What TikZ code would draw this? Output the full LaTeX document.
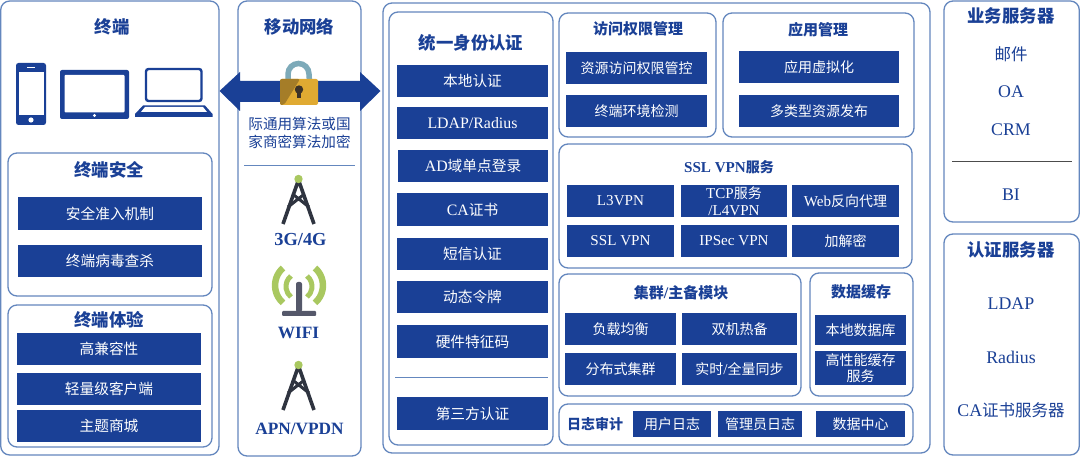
\documentclass[tikz,border=0pt]{standalone}
\usepackage{fontspec}
\setmainfont[Scale=1.08]{Liberation Serif}
\newfontfamily\cjk{Noto Sans CJK SC}
\newcommand{\C}[1]{{\cjk #1}}
\definecolor{bl}{HTML}{1A4096}
\definecolor{bd}{HTML}{6487BE}
\definecolor{tw}{HTML}{2F3440}
\definecolor{gr}{HTML}{A9C860}
\definecolor{gold}{HTML}{E0AA32}
\definecolor{golddk}{HTML}{A57D28}
\definecolor{shackle}{HTML}{7DAAB9}
\definecolor{keyc}{HTML}{3C3228}
\definecolor{mast}{HTML}{55586A}
\tikzset{x=1pt,y=-1pt,
 panel/.style={draw=bd,line width=1.3pt,fill=white,rounded corners=9pt},
 bbox/.style={fill=bl,text=white,inner sep=0pt,align=center,font=\fontsize{14}{15.5}\selectfont},
 bboxw/.style={bbox,font=\fontsize{14.7}{15.5}\selectfont},
 ttl/.style={text=bl,inner sep=0pt,align=center,font=\fontsize{17.4}{19}\selectfont\bfseries},
 ttlb/.style={text=bl,inner sep=0pt,align=center,font=\fontsize{15}{17}\selectfont\bfseries},
 srv/.style={text=bl,inner sep=0pt,align=center,font=\fontsize{16.5}{18}\selectfont},
 sepl/.style={draw=bd,line width=0.7pt},
}
\newcommand{\bx}[7][bbox]{\node[#1,minimum width=#4pt-#2pt,minimum height=#5pt-#3pt] (#6) at ({(#2+#4)/2},{(#3+#5)/2}) {#7};}
\newcommand{\pn}[5]{\draw[panel] (#1,#2) rectangle (#3,#4) coordinate (#5);}
\newcommand{\tower}[2]{%
 \begin{scope}[shift={(#1,#2)}]
 \draw[tw,line width=3.6pt] (0,6) -- (-15.5,50) (0,6) -- (15.5,50);
 \draw[tw,line width=3pt] (-10.5,33) -- (6,20) (10.5,33) -- (-6,20);
 \fill[gr] (0,5) circle (4.2pt);
 \end{scope}}
\begin{document}
\begin{tikzpicture}
\useasboundingbox (0,0) rectangle (1080,457);
\fill[white] (0,0) rectangle (1080,457);
% outer panels
\pn{0.7}{1}{219}{455}{p1}
\pn{238}{1}{361}{456}{p2}
\pn{383}{3}{930}{453}{p3}
\pn{944}{1}{1079.3}{222}{p4}
\pn{944}{234}{1079.3}{455}{p5}
% terminal
\node[ttl] (t1) at (112,27) {\C{终端}};
% phone
\fill[bl,rounded corners=2.5pt] (16,63) rectangle (46,125);
\fill[white] (18.5,72) rectangle (43.5,115);
\fill[white] (31,120) circle (2.6pt);
\fill[white] (27,67) rectangle (35,68);
% tablet
\fill[bl,rounded corners=2pt] (60,70) rectangle (129,119);
\fill[white,rounded corners=1pt] (64.5,75) rectangle (124.5,112.5);
\fill[white] (94.5,115.5) circle (1.6pt);
% laptop
\draw[bl,line width=2.4pt,rounded corners=2.5pt] (146,69) rectangle (201.5,101);
\fill[bl] (143,105.5) -- (205,105.5) -- (212.5,114) -- (212.5,117) -- (135,117) -- (135,114) -- cycle;
\fill[white] (145,107) -- (203,107) -- (207,112) -- (141,112) -- cycle;
% terminal security
\pn{8}{153}{212}{296}{p11}
\node[ttl] (t2) at (109,170) {\C{终端安全}};
\bx[bboxw]{18}{197}{202}{230}{a1}{\C{安全准入机制}}
\bx[bboxw]{18}{245}{202}{277}{a2}{\C{终端病毒查杀}}
% experience
\pn{8}{305}{212}{447}{p12}
\node[ttl] (t3) at (109,320) {\C{终端体验}};
\bx[bboxw]{17}{333}{201}{365}{a3}{\C{高兼容性}}
\bx[bboxw]{17}{373}{201}{405}{a4}{\C{轻量级客户端}}
\bx[bboxw]{17}{410}{201}{442}{a5}{\C{主题商城}}
% mobile network
\node[ttl] (t4) at (299.5,27) {\C{移动网络}};
\fill[bl] (219.5,91) -- (240,72) -- (240,81) -- (360,81) -- (360,72) -- (380.5,91) -- (360,111) -- (360,102) -- (240,102) -- (240,111) -- cycle;
% lock
\draw[line width=5.5pt,shackle] (288,82) -- (288,74) arc[start angle=180,end angle=0,radius=10.5pt] -- (309.5,82);
\fill[rounded corners=2pt,gold] (280,79) rectangle (318,105);
\fill[golddk,rounded corners=2pt] (280,105) -- (280,79) -- (300,79) -- (284,105) -- cycle;
\fill[keyc] (299,89.5) circle (4.2pt);
\fill[keyc] (297.3,90) rectangle (300.7,98.5);
\node[text=bl,inner sep=0pt,align=center,font=\fontsize{14.6}{18}\selectfont] (t5) at (299.5,133) {\C{际通用算法或国}\\\C{家商密算法加密}};
\draw[sepl] (244,165) -- (355,165);
\tower{298.5}{174}
\node[ttlb,font=\fontsize{17}{19}\selectfont\bfseries] (t6) at (300.5,240) {3G/4G};
% wifi
\fill[mast,rounded corners=1pt] (282,311) rectangle (316,316);
\fill[mast,rounded corners=2pt] (296,312) -- (296,282) -- (302,282) -- (302,312) -- cycle;
\draw[gr,line width=5pt] (291,276) arc[start angle=129,end angle=231,radius=13.5pt];
\draw[gr,line width=5pt] (307,276) arc[start angle=51,end angle=-51,radius=13.5pt];
\draw[gr,line width=6.5pt] (283,268) arc[start angle=131,end angle=229,radius=23.1pt];
\draw[gr,line width=6.5pt] (315,268) arc[start angle=49,end angle=-49,radius=23.1pt];
\node[ttlb,font=\fontsize{16}{18}\selectfont\bfseries] (t7) at (298.5,333) {WIFI};
\tower{298.5}{360}
\node[ttlb,font=\fontsize{16}{18}\selectfont\bfseries] (t8) at (299.5,429) {APN/VPDN};
% identity
\pn{389}{12}{553}{445}{q1}
\node[ttl] (t9) at (471,43) {\C{统一身份认证}};
\bx[bboxw]{397}{65}{548}{97}{b1}{\C{本地认证}}
\bx[bboxw]{397}{107}{548}{139}{b2}{LDAP/Radius}
\bx[bboxw]{398}{150}{548}{182}{b3}{AD\C{域单点登录}}
\bx[bboxw]{397}{193}{548}{226}{b4}{CA\C{证书}}
\bx[bboxw]{397}{238}{548}{270}{b5}{\C{短信认证}}
\bx[bboxw]{397}{281}{548}{313}{b6}{\C{动态令牌}}
\bx[bboxw]{397}{325}{548}{358}{b7}{\C{硬件特征码}}
\draw[sepl] (395,377) -- (548,377);
\bx[bboxw]{397}{397}{548}{430}{b8}{\C{第三方认证}}
% access
\pn{559}{13}{716}{137}{q2}
\node[ttlb] (t10) at (638,29) {\C{访问权限管理}};
\bx{566}{52}{707}{84}{c1}{\C{资源访问权限管控}}
\bx{566}{95}{707}{127}{c2}{\C{终端环境检测}}
% app
\pn{723}{13}{914}{137}{q3}
\node[ttlb] (t11) at (818,30) {\C{应用管理}};
\bx{739}{51}{899}{83}{d1}{\C{应用虚拟化}}
\bx{739}{95}{899}{127}{d2}{\C{多类型资源发布}}
% ssl
\pn{559}{144}{912}{268}{q4}
\node[ttlb,font=\fontsize{14}{16}\selectfont\bfseries] (t12) at (729,167) {SSL VPN\C{服务}};
\bx{567}{185}{674}{217}{e1}{L3VPN}
\bx{681}{185}{787}{217}{e2}{TCP\C{服务}\\[1.5pt]/L4VPN}
\bx{792}{185}{899}{217}{e3}{Web\C{反向代理}}
\bx{567}{225}{674}{257}{e4}{SSL VPN}
\bx{681}{225}{787}{257}{e5}{IPSec VPN}
\bx{792}{225}{899}{257}{e6}{\C{加解密}}
% cluster
\pn{559}{274}{801}{396}{q5}
\node[ttlb] (t13) at (681,293) {\C{集群}/\C{主备模块}};
\bx{565}{313}{676}{345}{f1}{\C{负载均衡}}
\bx{682}{313}{797}{345}{f2}{\C{双机热备}}
\bx{565}{353}{676}{385}{f3}{\C{分布式集群}}
\bx{682}{353}{797}{385}{f4}{\C{实时}/\C{全量同步}}
% cache
\pn{810}{273}{913}{396}{q6}
\node[ttlb] (t14) at (861,292) {\C{数据缓存}};
\bx{815}{315}{906}{345}{g1}{\C{本地数据库}}
\bx{815}{351}{906}{385}{g2}{\C{高性能缓存}\\\C{服务}}
% log
\pn{559}{404}{913}{445}{q7}
\node[text=bl,inner sep=0pt,font=\fontsize{14}{16}\selectfont\bfseries] (t15) at (595,424) {\C{日志审计}};
\bx{633}{411}{711}{437}{h1}{\C{用户日志}}
\bx{718}{411}{802}{437}{h2}{\C{管理员日志}}
\bx{816}{411}{905}{437}{h3}{\C{数据中心}}
% right
\node[ttl] (r1) at (1011,16) {\C{业务服务器}};
\node[srv] (r2) at (1011,54) {\C{邮件}};
\node[srv] (r3) at (1011,92) {OA};
\node[srv] (r4) at (1011,130) {CRM};
\draw[draw=black!70,line width=0.6pt] (952,161) -- (1072,161);
\node[srv] (r5) at (1011,195) {BI};
\node[ttl] (r6) at (1011,250) {\C{认证服务器}};
\node[srv] (r7) at (1011,304) {LDAP};
\node[srv] (r8) at (1011,357) {Radius};
\node[srv] (r9) at (1011,410) {CA\C{证书服务器}};
\end{tikzpicture}
\end{document}
